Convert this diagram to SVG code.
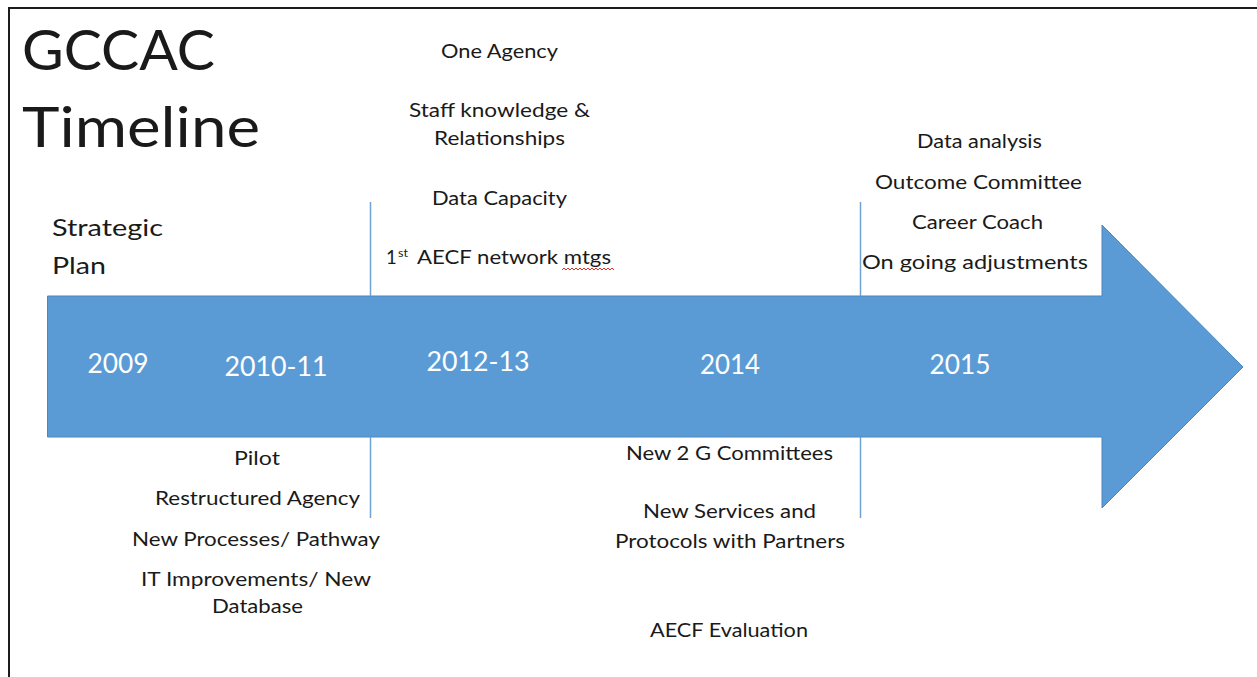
<svg xmlns="http://www.w3.org/2000/svg" width="1257" height="677" viewBox="0 0 1257 677">
  <style>
    text { font-family: Lato, "Open Sans", "Liberation Sans", sans-serif; fill: #1a1a1a; }
    .title { font-size: 57px; }
    .lbl { font-size: 18.5px; text-anchor: middle; }
    .lbl-s { font-size: 18.5px; }
    .sup { font-size: 12px; }
    .lbl-l { font-size: 23px; }
    .year { font-size: 27px; fill: #ffffff; text-anchor: middle; }
    .divider { stroke: #6fa3d6; stroke-width: 1.5; fill: none; }
    .frame { stroke: #1c1c1c; stroke-width: 2; fill: none; }
  </style>

  <rect width="1257" height="677" fill="#ffffff"/>

  <!-- page frame (top and left edges) -->
  <path class="frame" d="M9 677 V8 H1257"/>

  <!-- title -->
  <g id="title">
    <text class="title" x="22" y="70" textLength="193" lengthAdjust="spacingAndGlyphs">GCCAC</text>
    <text class="title" x="22" y="147" textLength="238" lengthAdjust="spacingAndGlyphs">Timeline</text>
  </g>

  <!-- timeline arrow -->
  <g id="arrow">
    <path d="M47.5 296 H1102 V225 L1243 367 L1102 508 V437 H47.5 Z" fill="#5b9bd5" stroke="#4a86c0" stroke-width="1"/>
  </g>

  <!-- period dividers -->
  <g id="connectors">
    <line class="divider" x1="370.5" y1="202" x2="370.5" y2="296"/>
    <line class="divider" x1="370.5" y1="437" x2="370.5" y2="518"/>
    <line class="divider" x1="860.5" y1="202" x2="860.5" y2="296"/>
    <line class="divider" x1="860.5" y1="437" x2="860.5" y2="518"/>
  </g>

  <!-- years on the arrow -->
  <g id="years">
    <text class="year" x="118" y="373" textLength="61" lengthAdjust="spacingAndGlyphs">2009</text>
    <text class="year" x="276" y="376" textLength="103" lengthAdjust="spacingAndGlyphs">2010-11</text>
    <text class="year" x="478" y="371" textLength="103" lengthAdjust="spacingAndGlyphs">2012-13</text>
    <text class="year" x="730" y="374" textLength="60" lengthAdjust="spacingAndGlyphs">2014</text>
    <text class="year" x="960" y="374" textLength="61" lengthAdjust="spacingAndGlyphs">2015</text>
  </g>

  <!-- 2009 -->
  <g id="strategic-plan">
    <text class="lbl-l" x="52" y="236" textLength="111" lengthAdjust="spacingAndGlyphs">Strategic</text>
    <text class="lbl-l" x="52" y="274" textLength="54" lengthAdjust="spacingAndGlyphs">Plan</text>
  </g>

  <!-- 2010-11 -->
  <g id="milestones-2010-11">
    <text class="lbl" x="257" y="465" textLength="46" lengthAdjust="spacingAndGlyphs">Pilot</text>
    <text class="lbl" x="257.5" y="505" textLength="205" lengthAdjust="spacingAndGlyphs">Restructured Agency</text>
    <text class="lbl" x="256" y="546" textLength="248" lengthAdjust="spacingAndGlyphs">New Processes/ Pathway</text>
    <text class="lbl" x="256" y="586" textLength="230" lengthAdjust="spacingAndGlyphs">IT Improvements/ New</text>
    <text class="lbl" x="257.5" y="613" textLength="91" lengthAdjust="spacingAndGlyphs">Database</text>
  </g>

  <!-- 2012-13 -->
  <g id="milestones-2012-13">
    <text class="lbl" x="499.5" y="58" textLength="117" lengthAdjust="spacingAndGlyphs">One Agency</text>
    <text class="lbl" x="499.5" y="117" textLength="181" lengthAdjust="spacingAndGlyphs">Staff knowledge &amp;</text>
    <text class="lbl" x="499.5" y="145" textLength="131" lengthAdjust="spacingAndGlyphs">Relationships</text>
    <text class="lbl" x="499.5" y="205" textLength="135" lengthAdjust="spacingAndGlyphs">Data Capacity</text>
    <text class="lbl-s" y="264"><tspan x="386">1</tspan><tspan class="sup" x="398" y="257" textLength="10" lengthAdjust="spacingAndGlyphs">st</tspan><tspan x="417" y="264" textLength="194" lengthAdjust="spacingAndGlyphs">AECF network mtgs</tspan></text>
    <!-- spell-check squiggle -->
    <path d="M562 270 l2 -2 l2 2 l2 -2 l2 2 l2 -2 l2 2 l2 -2 l2 2 l2 -2 l2 2 l2 -2 l2 2 l2 -2 l2 2 l2 -2 l2 2 l2 -2 l2 2 l2 -2 l2 2 l2 -2 l2 2 l2 -2 l2 2 l2 -2 l2 2" fill="none" stroke="#e0302a" stroke-width="1"/>
  </g>

  <!-- 2014 -->
  <g id="milestones-2014">
    <text class="lbl" x="729.5" y="460" textLength="207" lengthAdjust="spacingAndGlyphs">New 2 G Committees</text>
    <text class="lbl" x="729.5" y="518" textLength="173" lengthAdjust="spacingAndGlyphs">New Services and</text>
    <text class="lbl" x="730" y="548" textLength="230" lengthAdjust="spacingAndGlyphs">Protocols with Partners</text>
    <text class="lbl" x="729" y="637" textLength="158" lengthAdjust="spacingAndGlyphs">AECF Evaluation</text>
  </g>

  <!-- 2015 -->
  <g id="milestones-2015">
    <text class="lbl" x="979.5" y="148" textLength="125" lengthAdjust="spacingAndGlyphs">Data analysis</text>
    <text class="lbl" x="978.5" y="189" textLength="207" lengthAdjust="spacingAndGlyphs">Outcome Committee</text>
    <text class="lbl" x="977.5" y="229" textLength="131" lengthAdjust="spacingAndGlyphs">Career Coach</text>
    <text class="lbl" x="975" y="269" textLength="226" lengthAdjust="spacingAndGlyphs">On going adjustments</text>
  </g>
</svg>
